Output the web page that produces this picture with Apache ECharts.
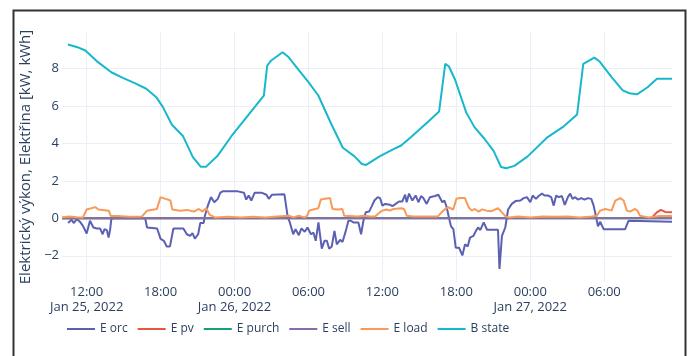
<!DOCTYPE html>
<html>
<head>
<meta charset="utf-8">
<script src="https://cdn.jsdelivr.net/npm/echarts@6/dist/echarts.min.js"></script>
<style>
  html, body { margin: 0; padding: 0; background: #ffffff; }
  #chart { width: 689px; height: 356px; }
</style>
</head>
<body>
<div id="chart"></div>
<script>
// Readings as [hours since 2022-01-25 00:00, value]
const orcPoints = [[10.5,-0.25],[10.77,-0.07],[10.95,-0.25],[11.2,-0.04],[11.45,-0.18],[11.7,-0.4],[12.0,-0.81],[12.27,-0.13],[12.55,-0.49],[12.82,-0.54],[13.09,-0.54],[13.3,-0.85],[13.45,-0.58],[13.64,-0.63],[13.78,-1.03],[13.91,-0.58],[14.0,-0.04],[14.2,0],[16.75,0],[16.9,-0.49],[17.72,-0.54],[18.0,-1.1],[18.27,-1.2],[18.49,-1.5],[18.76,-1.5],[19.04,-0.54],[19.85,-0.54],[20.13,-0.85],[20.4,-0.94],[20.59,-0.79],[20.78,-1.08],[21.05,-0.85],[21.22,-0.25],[21.49,-0.25],[21.6,0.14],[21.82,0.65],[22.09,1.13],[22.36,0.86],[22.64,1.04],[22.85,1.37],[23.04,1.44],[24.27,1.44],[24.76,1.37],[24.95,1.0],[25.15,1.22],[25.36,0.95],[25.64,1.37],[26.18,1.37],[26.59,1.26],[26.78,1.04],[27.05,1.26],[28.05,1.28],[28.32,0.05],[28.49,-0.22],[28.76,-0.85],[28.95,-0.58],[29.22,-0.9],[29.43,-0.54],[29.7,-0.72],[29.92,-0.49],[30.2,-0.85],[30.4,-0.76],[30.59,-1.2],[30.81,-0.22],[31.08,-1.62],[31.3,-1.2],[31.49,-1.2],[31.68,-1.62],[31.89,-1.5],[32.11,-0.67],[32.3,-1.39],[32.57,-1.15],[32.76,-1.26],[33.03,-0.67],[33.24,-0.13],[33.43,-0.13],[33.65,-0.22],[34.05,-0.22],[34.27,-0.85],[34.46,-0.13],[34.65,0.32],[34.92,0.36],[35.14,0.65],[35.35,0.95],[35.62,1.13],[35.81,1.08],[36.0,0.68],[36.22,0.77],[36.62,0.72],[36.81,0.65],[37.08,0.77],[37.35,0.9],[37.62,0.9],[37.84,1.26],[37.97,0.86],[38.16,1.32],[38.43,0.95],[38.7,1.22],[38.92,0.86],[39.14,1.19],[39.32,1.08],[39.59,0.77],[39.86,1.13],[40.27,1.19],[40.54,1.26],[40.86,0.86],[41.03,0.95],[41.22,0.59],[41.41,0.0],[41.57,-0.43],[41.76,-0.58],[41.95,-1.57],[42.22,-1.57],[42.49,-1.98],[42.7,-1.39],[42.92,-1.5],[43.11,-1.03],[43.38,-0.94],[43.59,-0.67],[43.76,-0.49],[43.95,-0.62],[44.22,-0.22],[44.49,-0.61],[45.38,-0.61],[45.5,-2.7],[45.7,-0.94],[45.97,-0.49],[46.2,0.47],[46.5,0.77],[46.8,0.92],[47.2,0.95],[47.46,1.08],[47.73,1.13],[48.0,0.86],[48.2,1.22],[48.46,1.04],[48.68,1.19],[48.95,1.32],[49.16,1.22],[49.43,1.22],[49.7,1.13],[49.9,0.68],[50.1,1.22],[50.3,1.13],[50.56,1.19],[50.8,0.72],[51.05,1.13],[51.24,1.32],[51.43,1.04],[51.65,1.13],[51.86,1.0],[52.14,1.08],[52.4,1.0],[52.68,1.08],[52.95,1.04],[53.14,0.68],[53.32,0.14],[53.49,-0.43],[53.67,-0.18],[53.95,-0.58],[55.7,-0.58],[55.97,-0.13],[56.1,-0.18],[59.5,-0.18]];

const pvPoints = [[10,0],[57.86,0.03],[58.27,0.32],[58.6,0.45],[58.95,0.34],[59.5,0.32]];

const purchPoints = [[10,0],[59.5,0]];

const sellPoints = [[10,0],[59.5,0]];

const loadPoints = [[10,0.06],[10.6,0.1],[11.2,0.06],[11.7,0.05],[12.0,0.47],[12.7,0.6],[12.95,0.47],[13.8,0.41],[13.96,0.12],[14.5,0.12],[15.5,0.08],[16.5,0.1],[16.9,0.41],[17.7,0.5],[18.0,1.13],[18.4,1.04],[18.8,0.95],[18.95,0.47],[19.6,0.41],[20.15,0.45],[20.7,0.36],[21.1,0.5],[21.4,0.36],[21.7,0.54],[22.0,0.18],[22.4,0.05],[23.5,0.08],[24.5,0.05],[25.5,0.08],[26.5,0.05],[27.5,0.1],[28.4,0.14],[28.8,0.05],[29.2,0.14],[29.7,0.05],[29.9,0.14],[30.05,0.41],[30.55,0.5],[30.8,0.54],[31.0,1.0],[31.35,1.04],[31.75,1.08],[31.95,0.5],[32.4,0.47],[32.75,0.5],[32.9,0.14],[33.0,0.05],[34.0,0.1],[34.5,0.14],[35.0,0.1],[35.4,0.1],[35.95,0.41],[36.35,0.47],[36.6,0.41],[36.9,0.5],[37.55,0.54],[37.75,0.5],[37.97,0.14],[38.5,0.1],[39.5,0.1],[40.5,0.1],[40.8,0.32],[41.1,0.5],[41.35,0.59],[41.75,0.47],[42.0,1.04],[42.3,1.08],[42.7,1.08],[43.0,0.59],[43.25,0.41],[43.5,0.5],[43.8,0.36],[44.1,0.48],[44.45,0.41],[44.85,0.38],[45.38,0.54],[45.7,0.32],[46.0,0.1],[46.3,0.05],[47.0,0.1],[48.0,0.05],[49.0,0.1],[50.0,0.08],[51.0,0.1],[52.0,0.05],[53.0,0.1],[53.4,0.14],[53.67,0.41],[54.08,0.5],[54.6,0.41],[54.9,0.95],[55.3,1.08],[55.57,0.95],[55.84,0.41],[56.1,0.36],[56.5,0.5],[56.7,0.41],[56.9,0.14],[57.6,0.05],[58.0,0.08],[58.5,0.12],[59.5,0.12]];

const statePoints = [[10.48,9.28],[11.25,9.14],[11.9,8.96],[12.92,8.34],[14.0,7.8],[14.94,7.5],[15.9,7.22],[16.84,6.92],[17.65,6.47],[18.19,5.94],[18.92,5.0],[19.81,4.4],[20.62,3.27],[21.25,2.76],[21.7,2.76],[22.65,3.36],[23.73,4.37],[25.08,5.49],[26.38,6.55],[26.65,8.16],[26.98,8.43],[27.9,8.87],[28.4,8.6],[29.2,7.93],[30.0,7.27],[30.8,6.56],[31.84,5.05],[32.79,3.77],[33.74,3.31],[34.33,2.9],[34.68,2.85],[35.77,3.31],[36.98,3.72],[37.52,3.89],[38.33,4.34],[39.14,4.82],[39.82,5.23],[40.6,5.7],[41.1,8.25],[41.4,8.11],[41.9,7.4],[42.79,5.67],[43.47,4.87],[44.28,4.25],[45.03,3.59],[45.63,2.74],[46.04,2.67],[46.71,2.8],[47.79,3.31],[49.41,4.34],[50.63,4.87],[51.8,5.55],[52.3,8.25],[53.2,8.58],[53.6,8.39],[54.6,7.54],[55.5,6.83],[56.04,6.68],[56.66,6.62],[57.52,7.0],[58.28,7.45],[59.5,7.45]];

const seriesNames = ['E orc', 'E pv', 'E purch', 'E sell', 'E load', 'B state'];
const seriesPoints = [orcPoints, pvPoints, purchPoints, sellPoints, loadPoints, statePoints];
const seriesColors = ['#5b60b3', '#e9563c', '#17a078', '#8a6ca8', '#f89b59', '#17b8cb'];

const yTitle = 'Elektrický výkon, Elektřina [kW, kWh]';
const monthNames = ['Jan','Feb','Mar','Apr','May','Jun','Jul','Aug','Sep','Oct','Nov','Dec'];

const DAY0 = new Date(2022, 0, 25, 0, 0, 0).getTime();
const HOUR = 3600 * 1000;
const xStartHour = 10;
const xEndHour = 59.5;
const toTime = h => DAY0 + h * HOUR;

const axisTextColor = '#2a3f5f';
const gridColor = '#ebf0f8';
const pad2 = n => (n < 10 ? '0' : '') + n;

const chart = echarts.init(document.getElementById('chart'), null, { renderer: 'canvas' });

chart.setOption({
  animation: false,
  backgroundColor: '#ffffff',
  textStyle: { fontFamily: '"Open Sans", Verdana, Arial, sans-serif' },
  graphic: [{
    type: 'rect',
    left: 11, top: 8,
    shape: { width: 672, height: 380 },
    style: { fill: 'none', stroke: '#333333', lineWidth: 2 },
    silent: true
  }],
  grid: { left: 62, right: 17, top: 32, bottom: 74 },
  legend: {
    data: seriesNames,
    left: 62, top: 318,
    padding: [5, 5, 5, 5],
    icon: 'rect',
    itemWidth: 28, itemHeight: 2,
    itemGap: 10,
    textStyle: { color: axisTextColor, fontSize: 12, fontFamily: '"Open Sans", Verdana, Arial, sans-serif' }
  },
  xAxis: {
    type: 'time',
    min: toTime(xStartHour),
    max: toTime(xEndHour),
    // a 7 h target step makes the time scale settle on 6 h ticks
    minInterval: 7 * HOUR,
    maxInterval: 7 * HOUR,
    axisLine: { show: false },
    axisTick: { show: false },
    splitLine: { show: true, showMinLine: false, showMaxLine: false, lineStyle: { color: gridColor, width: 1 } },
    axisLabel: {
      showMinLabel: false,
      showMaxLabel: false,
      margin: 3,
      color: axisTextColor,
      fontSize: 13,
      lineHeight: 15,
      hideOverlap: false,
      formatter: function (value) {
        const d = new Date(value);
        const hm = pad2(d.getHours()) + ':' + pad2(d.getMinutes());
        const first = value - toTime(xStartHour) < 6 * HOUR;
        if (d.getHours() === 0 || first) {
          return hm + '\n' + monthNames[d.getMonth()] + ' ' + d.getDate() + ', ' + d.getFullYear();
        }
        return hm;
      }
    }
  },
  yAxis: {
    type: 'value',
    min: -3.4,
    max: 9.95,
    minInterval: 2,
    maxInterval: 2,
    name: yTitle,
    nameLocation: 'middle',
    nameGap: 25,
    nameTextStyle: { color: axisTextColor, fontSize: 15, fontFamily: '"Open Sans", Verdana, Arial, sans-serif' },
    axisLine: { show: false },
    axisTick: { show: false },
    splitLine: { show: true, showMinLine: false, showMaxLine: false, lineStyle: { color: gridColor, width: 1 } },
    axisLabel: {
      showMinLabel: false,
      showMaxLabel: false,
      margin: 3,
      color: axisTextColor,
      fontSize: 13,
      formatter: v => (v < 0 ? '\u2212' + Math.abs(v) : String(v))
    }
  },
  series: seriesNames.map((name, i) => ({
    name: name,
    type: 'line',
    showSymbol: false,
    symbol: 'none',
    color: seriesColors[i],
    lineStyle: { width: 2, color: seriesColors[i] },
    data: seriesPoints[i].map(p => [toTime(p[0]), p[1]])
  }))
});
</script>
</body>
</html>
